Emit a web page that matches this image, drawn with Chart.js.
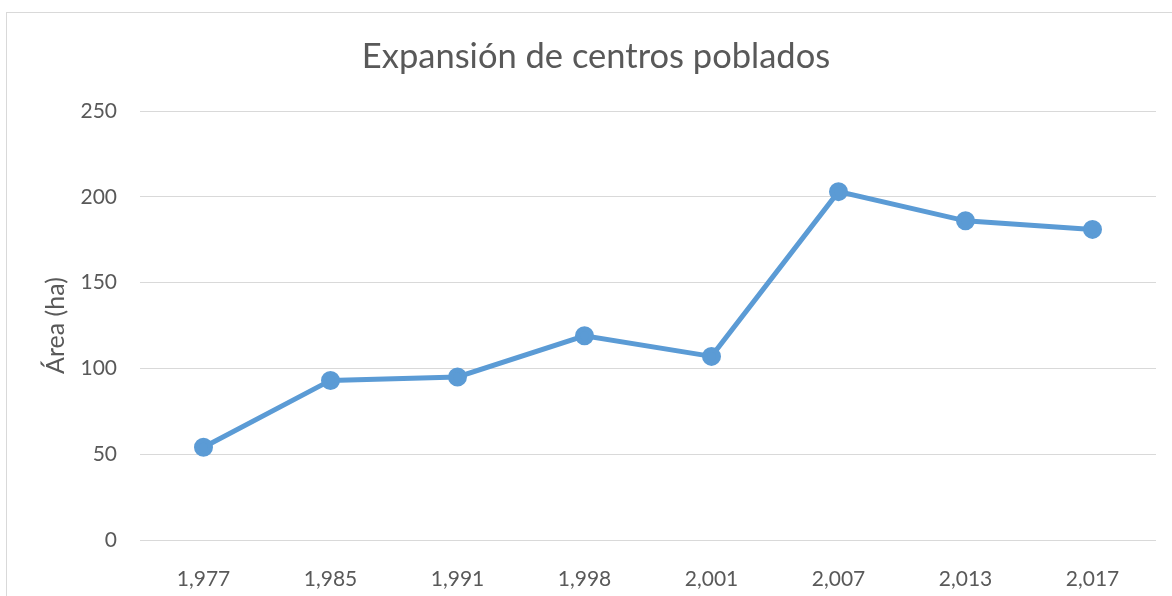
<!DOCTYPE html>
<html>
<head>
    <title>Expansión de centros poblados</title>
    <script src="https://cdn.jsdelivr.net/npm/chart.js"></script>
    <style>
        body { margin: 0; background: white; }
        #frame {
            position: absolute;
            left: 6px; top: 12px;
            width: 1180px; height: 600px;
            border: 1px solid #d9d9d9;
        }
        #wrap { position: absolute; left: 0; top: 0; width: 1172px; height: 596px; }
    </style>
</head>
<body>
    <div id="frame"></div>
    <div id="wrap">
        <canvas id="myChart" width="1172" height="596"></canvas>
    </div>

    <script>
        // Años (con separador de miles, como en la hoja original) y área en hectáreas
        const years = ['1,977', '1,985', '1,991', '1,998', '2,001', '2,007', '2,013', '2,017'];
        const areaHa = [54, 93, 95, 119, 107, 203, 186, 181];
        const yTicks = [0, 50, 100, 150, 200, 250];
        const titulo = 'Expansión de centros poblados';

        const gris = '#595959';
        const azul = '#5B9BD5';
        const fuente = 'Lato, "Open Sans", sans-serif';

        // El título va centrado sobre el marco del gráfico, no sobre el área de trazado
        const tituloCentrado = {
            id: 'tituloCentrado',
            afterDraw(chart) {
                const c = chart.ctx;
                c.save();
                c.fillStyle = gris;
                c.font = '34.5px ' + fuente;
                c.textAlign = 'center';
                c.textBaseline = 'middle';
                c.fillText(titulo, 596, 57);
                c.restore();
            }
        };

        const ctx = document.getElementById('myChart').getContext('2d');

        new Chart(ctx, {
            type: 'line',
            data: {
                labels: years,
                datasets: [{
                    label: 'Área (ha)',
                    data: areaHa,
                    borderColor: azul,
                    backgroundColor: azul,
                    borderWidth: 5,
                    pointRadius: 7,
                    pointHoverRadius: 7,
                    pointBackgroundColor: azul,
                    pointBorderColor: azul,
                    fill: false,
                    tension: 0
                }]
            },
            plugins: [tituloCentrado],
            options: {
                responsive: false,
                animation: false,
                layout: { padding: { left: 0, right: 16, top: 111, bottom: 0 } },
                plugins: {
                    legend: { display: false },
                    tooltip: { enabled: false },
                    title: { display: false }
                },
                scales: {
                    x: {
                        offset: true,
                        grid: { display: false },
                        border: { display: false },
                        ticks: {
                            color: gris,
                            padding: 19,
                            maxRotation: 0,
                            font: { family: fuente, size: 21 }
                        },
                        afterFit: s => { s.height = 56; }
                    },
                    y: {
                        min: 0,
                        max: 250,
                        afterBuildTicks: s => { s.ticks = yTicks.map(v => ({ value: v })); },
                        grid: { color: '#d9d9d9', lineWidth: 1, drawTicks: false },
                        border: { display: false },
                        ticks: {
                            color: gris,
                            padding: 23,
                            font: { family: fuente, size: 21 }
                        },
                        title: {
                            display: true,
                            text: 'Área (ha)',
                            color: gris,
                            font: { family: fuente, size: 25 },
                            padding: { top: 41, bottom: 0 }
                        },
                        afterFit: s => { s.width = 140; }
                    }
                }
            }
        });
    </script>
</body>
</html>
